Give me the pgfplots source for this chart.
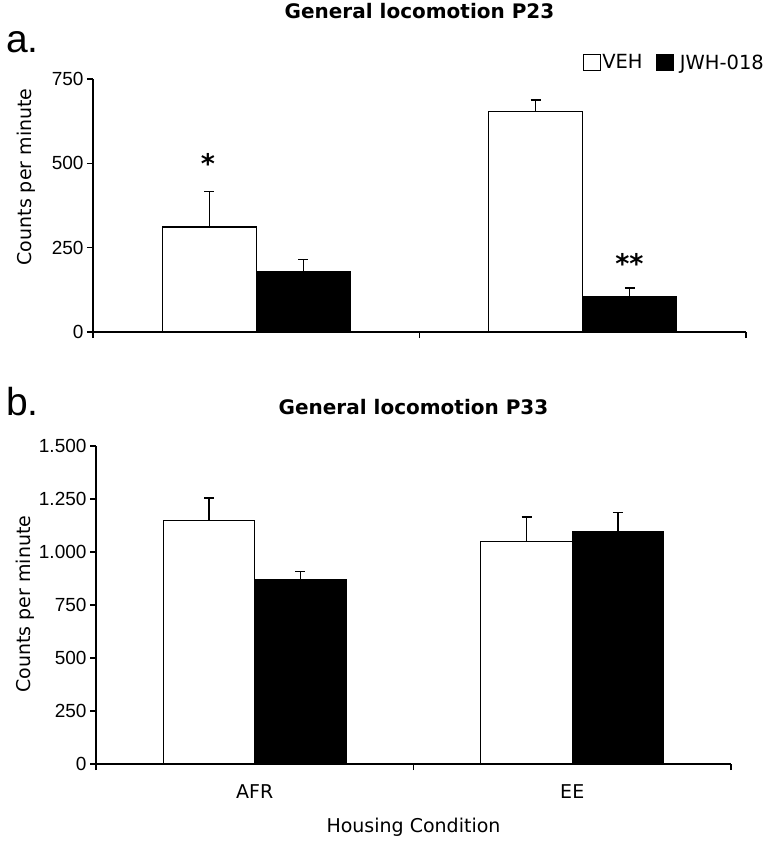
\documentclass[border=0pt]{standalone}
\usepackage{fontspec}
\setmainfont{DejaVu Sans}
\newfontfamily\arial{Liberation Sans}
\newfontfamily\dvbold{DejaVu Sans Bold}
\usepackage{pgfplots}
\pgfplotsset{compat=1.18}
\begin{document}
\begin{tikzpicture}[x=1pt,y=1pt]
\useasboundingbox (0,0) rectangle (772,-841);
\pgfplotsset{
 myax/.style={
  scale only axis, ybar, bar width=0.288,
  axis x line*=bottom, axis y line*=left,
  axis line style={-, line width=1.3pt, black},
  xmin=0.5, xmax=2.5, ymin=0,
  tick align=outside, major tick length=6pt, minor tick length=6pt,
  every tick/.style={black, line width=1.3pt},
  yticklabel style={font=\arial\fontsize{19}{22}\selectfont},
  ylabel={Counts per minute},
  ylabel style={font=\fontsize{19}{22}\selectfont},
  title style={font=\dvbold\fontsize{20}{24}\selectfont},
  error bars/y dir=plus, error bars/y explicit,
  error bars/error mark=-,
  error bars/error bar style={line width=1.4pt, black},
  error bars/error mark options={rotate=90, line width=1.4pt, mark size=5pt, black},
 },
 vehstyle/.style={fill=white, draw=black, line width=1.3pt, bar shift=-0.144,
   legend image code/.code={\draw[fill=white,draw=black,line width=1.3pt] (0pt,-8pt) rectangle (17pt,8pt);}},
 jwhstyle/.style={fill=black, draw=black, line width=1.3pt, bar shift=0.144,
   legend image code/.code={\draw[fill=black,draw=black,line width=1.3pt] (0pt,-8pt) rectangle (17pt,8pt);}},
}
% ---------- panel a ----------
\begin{axis}[myax, at={(93pt,-332pt)}, anchor=south west,
  width=653pt, height=253pt, ymax=750,
  xtick={0.5,1.5,2.5}, xticklabels={},
  ytick={0,250,500,750}, yticklabels={0,250,500,750},
  title={General locomotion P23},
  title style={at={(axis description cs:0.5,1)}, anchor=base, yshift=55pt},
  ylabel style={at={(axis description cs:-0.102,0.613)}, anchor=center},
  legend style={draw=none, fill=none, at={(1.030,1.065)}, anchor=east,
    legend columns=-1, inner sep=0pt, font=\fontsize{19.5}{22}\selectfont,
    nodes={inner sep=1.5pt}},
  legend cell align=left]
\addplot[vehstyle] coordinates {(1,311) +- (0,105) (2,653) +- (0,35)};
\addplot[jwhstyle] coordinates {(1,179) +- (0,36) (2,105) +- (0,25)};
\legend{VEH\hspace*{12pt},\hspace*{4pt}JWH-018}
\node[anchor=north, inner sep=0pt, font=\dvbold\fontsize{27}{27}\selectfont] at (axis cs:0.852,531) {*};
\node[anchor=north, inner sep=0pt, font=\dvbold\fontsize{27}{27}\selectfont] at (axis cs:2.143,234) {**};
\end{axis}
% ---------- panel b ----------
\begin{axis}[myax, at={(96pt,-764pt)}, anchor=south west,
  width=635pt, height=318pt, ymax=1500,
  xtick={1,2}, xticklabels={AFR,EE},
  every major x tick/.append style={draw=none},
  minor xtick={0.5,1.5,2.5},
  every minor tick/.style={black, line width=1.3pt},
  xticklabel style={font=\fontsize{19}{22}\selectfont, anchor=base, yshift=-28pt},
  ytick={0,250,500,750,1000,1250,1500},
  yticklabels={0,250,500,750,{1.000},{1.250},{1.500}},
  xlabel={Housing Condition},
  xlabel style={at={(axis description cs:0.5,0)}, anchor=base, yshift=-68pt,
     font=\fontsize{19}{22}\selectfont},
  title={General locomotion P33},
  title style={at={(axis description cs:0.5,1)}, anchor=base, yshift=26pt},
  ylabel style={at={(axis description cs:-0.112,0.503)}, anchor=center}]
\addplot[vehstyle] coordinates {(1,1148) +- (0,107) (2,1051) +- (0,114)};
\addplot[jwhstyle] coordinates {(1,869) +- (0,38) (2,1098) +- (0,89)};
\end{axis}
\node[anchor=base west, inner sep=0pt, font=\arial\fontsize{39}{40}\selectfont] at (6,-52) {a.};
\node[anchor=base west, inner sep=0pt, font=\arial\fontsize{39}{40}\selectfont] at (6,-415) {b.};
\end{tikzpicture}
\end{document}
